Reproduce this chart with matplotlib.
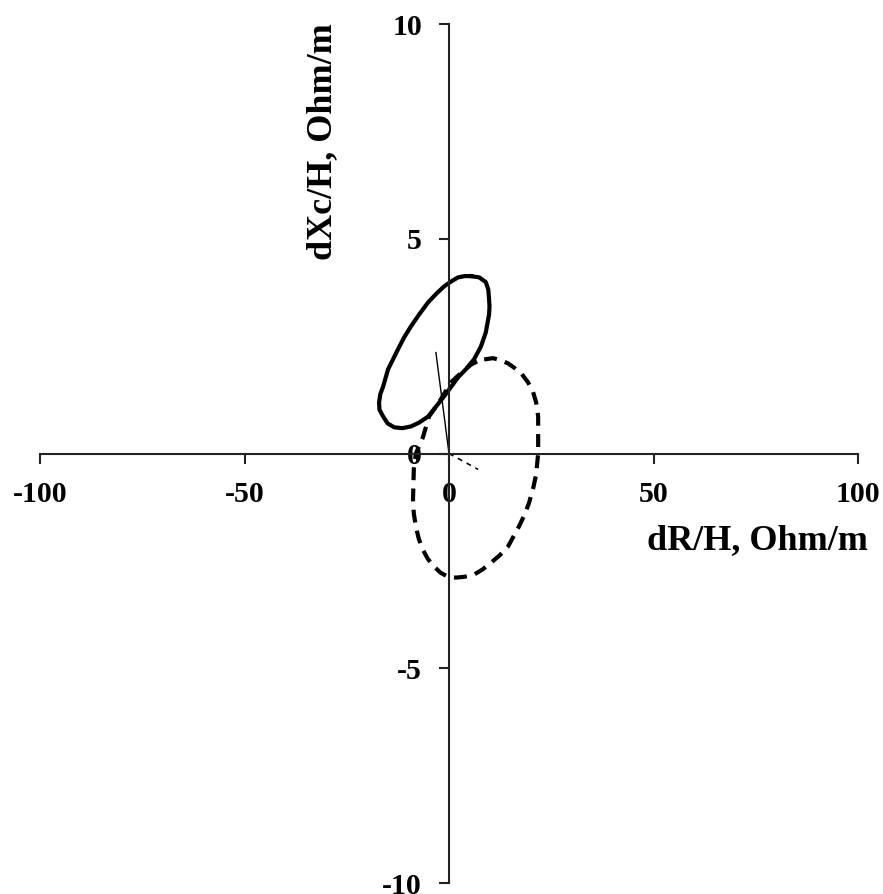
import matplotlib.pyplot as plt
import numpy as np

# solid loop (dR/H, dXc/H)
solid_x = [5.4, 7.4, 9.0, 9.6, 9.8, 9.9, 9.8, 9.0, 7.8, 6.1, 4.2, 2.2, 0.5, -1.2, -3.2, -5.1,
           -7.3, -9.3, -11.4, -13.4, -15.0, -16.1, -17.0, -17.1, -16.8, -16.1, -14.9,
           -12.5, -11.0, -9.3, -7.2, -5.1, -3.1, -1.2, 0.6, 2.2, 3.8, 5.4]
solid_y = [4.13, 4.10, 3.99, 3.82, 3.59, 3.42, 3.24, 2.82, 2.49, 2.19, 1.97, 1.77, 1.55, 1.33, 1.09, 0.86,
           0.72, 0.63, 0.59, 0.61, 0.70, 0.86, 1.02, 1.19, 1.38, 1.56, 1.96,
           2.42, 2.70, 2.96, 3.25, 3.52, 3.72, 3.89, 4.01, 4.10, 4.13, 4.13]

# dashed loop
dash_x = [8.6, 10.8, 12.7, 14.4, 15.9, 17.8, 19.3, 20.5, 21.3, 21.8, 21.8, 21.8, 21.3, 20.6,
          19.6, 18.5, 17.1, 14.4, 12.4, 10.3, 8.2, 6.1, 3.8, 1.7, -0.2, -2.0, -3.7, -5.2,
          -6.4, -7.4, -8.1, -8.6, -8.8, -8.6, -8.1, -6.4, -4.9, -3.4, -2.0, 0.5, 3.0, 5.4, 7.0, 8.6]
dash_y = [2.19, 2.22, 2.17, 2.10, 2.00, 1.85, 1.66, 1.45, 1.19, 0.86, 0.56, 0.0, -0.49, -0.80,
          -1.14, -1.42, -1.70, -2.17, -2.37, -2.54, -2.70, -2.82, -2.87, -2.89, -2.87, -2.78, -2.63, -2.45,
          -2.24, -1.98, -1.70, -1.40, -1.07, -0.37, 0.0, 0.37, 0.86, 1.06, 1.26, 1.66, 1.88, 2.07, 2.15, 2.19]

# thin solid and dotted rays from the origin
ray_x = [-3.2, 0.0]
ray_y = [2.35, 0.0]
dot_x = [0.0, 7.1]
dot_y = [0.0, -0.37]

xticks = [-100, -50, 0, 50, 100]
yticks = [-10, -5, 0, 5, 10]

plt.rcParams['font.family'] = ['Liberation Serif', 'DejaVu Serif']
plt.rcParams['font.weight'] = 'bold'

fig = plt.figure(figsize=(8.83, 8.94), dpi=100)
ax = fig.add_axes([40/883, 11/894, 818/883, 859/894])

ax.plot(solid_x, solid_y, color='black', lw=3.0, solid_joinstyle='round')
ax.plot(dash_x, dash_y, color='black', lw=3.0, linestyle=(0, (3.1, 2.0)))
ax.plot(ray_x, ray_y, color='black', lw=1.0)
ax.plot(dot_x, dot_y, color='black', lw=1.2, linestyle=(0, (3, 3)))

ax.set_xlim(-100, 100)
ax.set_ylim(-10, 10)
ax.spines['left'].set_position(('data', 0))
ax.spines['bottom'].set_position(('data', 0))
ax.spines['top'].set_visible(False)
ax.spines['right'].set_visible(False)
for s in ['left', 'bottom']:
    ax.spines[s].set_linewidth(1.5)
    ax.spines[s].set_color('#222222')

ax.set_xticks(xticks)
ax.set_yticks(yticks)
ax.set_xticklabels([str(t) for t in xticks], fontsize=21.5, fontweight='bold')
ax.set_yticklabels([str(t) for t in yticks], fontsize=21.5, fontweight='bold')
ax.tick_params(axis='both', direction='out', length=7.5, width=1.5, color='#222222')
ax.tick_params(axis='x', pad=12)
ax.tick_params(axis='y', pad=12)

ax.set_xlabel('dR/H, Ohm/m', fontsize=26, fontweight='bold', va='center')
ax.xaxis.set_label_coords(0.8765, 0.399)
ax.set_ylabel('dXc/H, Ohm/m', fontsize=26, fontweight='bold', va='center')
ax.yaxis.set_label_coords(0.346, 0.863)

fig.savefig('out.png', dpi=100)
